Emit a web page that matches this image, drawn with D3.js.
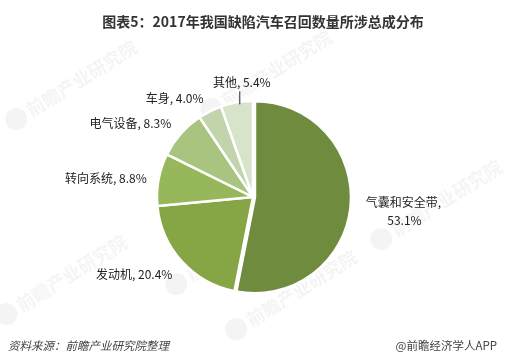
<!DOCTYPE html>
<html><head><meta charset="utf-8">
<script src="https://cdn.jsdelivr.net/npm/d3@7"></script>
<style>
html,body{margin:0;padding:0;background:#fff;}
svg{display:block;font-family:"Noto Sans CJK SC","Microsoft YaHei",sans-serif;}
</style></head>
<body>
<svg id="c" width="506" height="364"></svg>
<script>
const categories = ["气囊和安全带","发动机","转向系统","电气设备","车身","其他"];
const values = [53.1, 20.4, 8.8, 8.3, 4.0, 5.4];
const colors = ["#6f8b3d","#86a646","#97b85a","#a9c47f","#c2d4ab","#d8e4ca"];
const titleText = "图表5：2017年我国缺陷汽车召回数量所涉总成分布";
const sourceText = "资料来源：前瞻产业研究院整理";
const brandText = "@前瞻经济学人APP";
const watermarkText = "前瞻产业研究院";

const svg = d3.select("#c");
const cx = 253, cy = 197, R = 96;

// faint watermarks
const wm = [[20,125],[215,115],[180,290],[385,245],[10,320],[240,335]];
const wg = svg.append("g").attr("fill","#000").attr("opacity",0.045);
wm.forEach(([x,y])=>{
  const g = wg.append("g").attr("transform",`translate(${x},${y}) rotate(-32)`);
  g.append("circle").attr("cx",0).attr("cy",-7).attr("r",11);
  g.append("text").attr("x",14).attr("y",0).attr("font-size",18).attr("font-weight","bold").text(watermarkText);
});

svg.append("text").attr("x",263).attr("y",27).attr("text-anchor","middle")
  .attr("font-size",14).attr("font-weight","bold").attr("fill","#333").text(titleText);

const pie = d3.pie().sort(null).value(d=>d)(values);
const arc = d3.arc().innerRadius(0).outerRadius(R);
const g = svg.append("g").attr("transform",`translate(${cx},${cy})`);
g.selectAll("path").data(pie).join("path")
  .attr("d",arc)
  .attr("transform",(d,i)=>{
    if(i!==0) return null;
    const m=(d.startAngle+d.endAngle)/2;
    return `translate(${2*Math.sin(m)},${-2*Math.cos(m)})`;
  })
  .attr("fill",(d,i)=>colors[i])
  .attr("stroke","#fff").attr("stroke-width",2.5).attr("stroke-linejoin","round");

const lab = svg.append("g").attr("font-size",12).attr("fill","#222");
pie.forEach((d,i)=>{
  const m=(d.startAngle+d.endAngle)/2;
  const txt = categories[i]+", "+values[i].toFixed(1)+"%";
  if(i===0){
    const x=cx+112*Math.sin(m), y=cy-112*Math.cos(m);
    const t=lab.append("text").attr("text-anchor","middle");
    t.append("tspan").attr("x",x+39).attr("y",y-1).text(categories[i]+",");
    t.append("tspan").attr("x",x+40).attr("y",y+17).text(values[i].toFixed(1)+"%");
  } else if(i===5){
    const x=cx+R*Math.sin(m)+3;
    const y0=cy-R*Math.cos(m);
    lab.append("line").attr("x1",x).attr("x2",x).attr("y1",y0+2).attr("y2",y0-11)
      .attr("stroke","#222").attr("stroke-width",1);
    lab.append("text").attr("x",x+2).attr("y",y0-15).attr("text-anchor","middle").text(txt);
  } else {
    const r=106;
    const x=cx+r*Math.sin(m), y=cy-r*Math.cos(m);
    const dy = i===1 ? 11 : (i===4 ? 1 : (i===3 ? 1 : 5));
    lab.append("text").attr("x",x-2).attr("y",y+dy).attr("text-anchor","end").text(txt);
  }
});

svg.append("text").attr("x",8).attr("y",350).attr("font-size",11.5).attr("font-style","italic")
  .attr("fill","#444").text(sourceText);
svg.append("text").attr("x",497).attr("y",350).attr("font-size",11.5).attr("text-anchor","end")
  .attr("fill","#444").text(brandText);
</script>
</body></html>
